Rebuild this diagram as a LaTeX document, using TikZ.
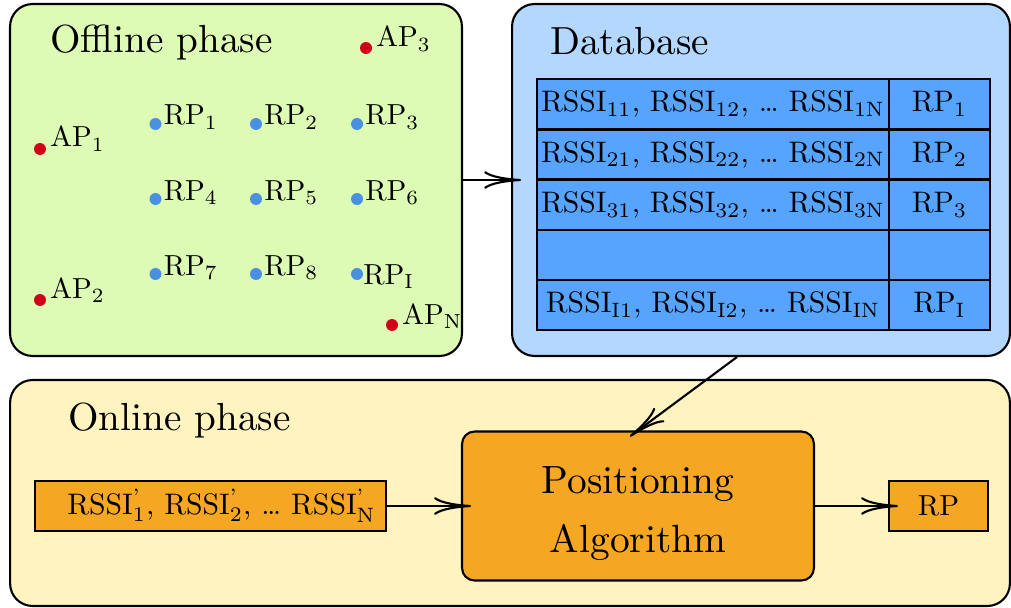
\documentclass[tikz,border=0pt]{standalone}
\usepackage{amsmath}
\usepackage{graphicx}
\usetikzlibrary{arrows.meta,calc}

\definecolor{offlinebg}{HTML}{DDFBB4}
\definecolor{databg}{HTML}{B4D7FF}
\definecolor{cellblue}{HTML}{57A4FF}
\definecolor{onlinebg}{HTML}{FFF4BF}
\definecolor{boxorange}{HTML}{F5A623}
\definecolor{apred}{HTML}{D0021B}
\definecolor{rpblue}{HTML}{4A90E2}

% text is set at 10pt and enlarged as a whole
\newcommand\ttl[1]{\scalebox{2.23}{#1}}
\newcommand\sm[1]{\scalebox{1.65}{#1}}
\newcommand\tb[1]{\scalebox{1.69}{#1}}

\begin{document}
\begin{tikzpicture}[x=0.02cm,y=-0.02cm,
  font=\normalsize,
  panel/.style={draw=black, line width=1.2pt, rounded corners=0.45cm, inner sep=0pt},
  cell/.style={draw=black, line width=1.2pt, fill=cellblue, minimum height=1.0cm, inner sep=0pt},
  widecell/.style={cell, minimum width=7.04cm},
  narrowcell/.style={cell, minimum width=2.02cm},
  orangebox/.style={draw=black, line width=1.2pt, fill=boxorange, inner sep=0pt},
  title/.style={anchor=base west, inner sep=0pt},
  apdot/.style={circle, fill=apred, inner sep=0pt, minimum size=0.24cm},
  rpdot/.style={circle, fill=rpblue, inner sep=0pt, minimum size=0.24cm},
  lbl/.style={anchor=base west, inner sep=0pt},
  flow/.style={line width=1.2pt, shorten >=-0.2cm,
    -{Computer Modern Rightarrow[length=21pt,width=10pt]}}
]
\useasboundingbox (0,0) rectangle (1011,608);

% ---------- panels ----------
\node[panel, fill=offlinebg, minimum width=9.04cm, minimum height=7.04cm] (offline) at (236,180) {};
\node[panel, fill=databg, minimum width=9.96cm, minimum height=7.04cm] (db) at (761,180) {};
\node[panel, fill=onlinebg, minimum width=20cm, minimum height=4.52cm] (online) at (510,493) {};

\node[title] (offlinettl) at (50,53) {\ttl{Offline phase}};
\node[title] (dbttl) at (550,55) {\ttl{Database}};
\node[title] (onlinettl) at (68,430) {\ttl{Online phase}};

% ---------- access points and reference points ----------
\node[apdot] (ap1) at (40,149) {};
\node[apdot] (ap2) at (40,300) {};
\node[apdot] (ap3) at (366,48) {};
\node[apdot] (apn) at (392,325) {};

\node[rpdot] (rp1) at (155.5,124) {};
\node[rpdot] (rp2) at (256,124) {};
\node[rpdot] (rp3) at (357,124) {};
\node[rpdot] (rp4) at (155.5,199) {};
\node[rpdot] (rp5) at (256,199) {};
\node[rpdot] (rp6) at (357,199) {};
\node[rpdot] (rp7) at (155.5,274) {};
\node[rpdot] (rp8) at (256,274) {};
\node[rpdot] (rpi) at (357,274) {};

\node[lbl] (ap1l) at ($(ap1)+(10,-2)$) {\sm{AP$_1$}};
\node[lbl] (ap2l) at ($(ap2)+(10,-2)$) {\sm{AP$_2$}};
\node[lbl] (ap3l) at ($(ap3)+(10,-1)$) {\sm{AP$_3$}};
\node[lbl] (apnl) at ($(apn)+(10,-1)$) {\sm{AP$_\mathrm{N}$}};

\node[lbl] (rp1l) at ($(rp1)+(8,1)$) {\sm{RP$_1$}};
\node[lbl] (rp2l) at ($(rp2)+(8,1)$) {\sm{RP$_2$}};
\node[lbl] (rp3l) at ($(rp3)+(8,1)$) {\sm{RP$_3$}};
\node[lbl] (rp4l) at ($(rp4)+(8,1)$) {\sm{RP$_4$}};
\node[lbl] (rp5l) at ($(rp5)+(8,1)$) {\sm{RP$_5$}};
\node[lbl] (rp6l) at ($(rp6)+(8,1)$) {\sm{RP$_6$}};
\node[lbl] (rp7l) at ($(rp7)+(8,1)$) {\sm{RP$_7$}};
\node[lbl] (rp8l) at ($(rp8)+(8,1)$) {\sm{RP$_8$}};
\node[lbl] (rpil) at ($(rpi)+(6,10)$) {\sm{RP$_\mathrm{I}$}};

% ---------- fingerprint table ----------
\node[widecell] (r1a) at (713,104) {\tb{RSSI$_{11}$, RSSI$_{12}$, \dots{} RSSI$_{1\mathrm{N}}$}};
\node[narrowcell] (r1b) at (939.5,104) {\tb{RP$_1$}};
\node[widecell] (r2a) at (713,154.5) {\tb{RSSI$_{21}$, RSSI$_{22}$, \dots{} RSSI$_{2\mathrm{N}}$}};
\node[narrowcell] (r2b) at (939.5,154.5) {\tb{RP$_2$}};
\node[widecell] (r3a) at (713,205) {\tb{RSSI$_{31}$, RSSI$_{32}$, \dots{} RSSI$_{3\mathrm{N}}$}};
\node[narrowcell] (r3b) at (939.5,205) {\tb{RP$_3$}};
\node[widecell] (r4a) at (713,255) {};
\node[narrowcell] (r4b) at (939.5,255) {};
\node[widecell] (r5a) at (713,305) {\tb{RSSI$_{\mathrm{I}1}$, RSSI$_{\mathrm{I}2}$, \dots{} RSSI$_{\mathrm{IN}}$}};
\node[narrowcell] (r5b) at (939.5,305) {\tb{RP$_\mathrm{I}$}};

% ---------- online phase ----------
\node[orangebox, minimum width=7.02cm, minimum height=1.0cm] (meas) at (210.5,506)
  {\hspace{0.44cm}\tb{RSSI$^{\text{'}}_{1}$, RSSI$^{\text{'}}_{2}$, \dots{} RSSI$^{\text{'}}_{\mathrm{N}}$}};
\node[orangebox, rounded corners=0.25cm, minimum width=7.04cm, minimum height=2.98cm] (algo) at (638,506)
  {\scalebox{2.24}{\begin{tabular}{@{}c@{}}\rule{0pt}{12.4pt}Positioning\\[3pt]Algorithm\end{tabular}}};
\node[orangebox, minimum width=1.98cm, minimum height=1.0cm] (res) at (938.5,506) {\sm{RP}};

% ---------- connectors ----------
\coordinate (dbout) at ($(db.south west)!0.452!(db.south east)$);
\draw[flow] (offline.east) -- (db.west);
\draw[flow] (dbout) -- (algo.north);
\draw[flow] (meas.east) -- (algo.west);
\draw[flow] (algo.east) -- (res.west);
\end{tikzpicture}
\end{document}
